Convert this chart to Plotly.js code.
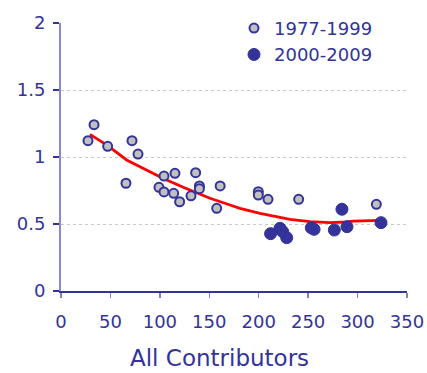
<!DOCTYPE html>
<html>
<head>
<meta charset="utf-8">
<script src="https://cdn.plot.ly/plotly-3.0.1.min.js"></script>
<style>html,body{margin:0;padding:0;background:#fff;}#chart{width:427px;height:373px;}</style>
</head>
<body>
<div id="chart"></div>
<script>
// 1977-1999 series
const earlyX = [27.3, 33.4, 47.2, 65.7, 71.8, 77.9, 99.1, 104.2, 104.2, 115.3, 114.0, 120.0, 131.5, 136.2, 140.0, 140.0, 157.5, 161.0, 199.6, 199.6, 209.4, 240.4, 319.0];
const earlyY = [1.122, 1.241, 1.080, 0.804, 1.122, 1.022, 0.774, 0.858, 0.739, 0.878, 0.729, 0.666, 0.710, 0.883, 0.784, 0.763, 0.617, 0.784, 0.741, 0.716, 0.684, 0.684, 0.647];
// 2000-2009 series
const lateX = [212.0, 221.5, 224.3, 228.3, 253.2, 256.0, 276.5, 284.2, 289.3, 323.7];
const lateY = [0.428, 0.468, 0.443, 0.398, 0.472, 0.460, 0.455, 0.610, 0.480, 0.510];
// trend line
const trendX = [29.3, 47.2, 66.4, 86.7, 103.5, 123.7, 137.3, 150.7, 171.0, 181.0, 201.3, 221.5, 231.6, 251.9, 272.0, 289.0, 295.4, 322.7];
const trendY = [1.169, 1.085, 0.978, 0.903, 0.840, 0.774, 0.735, 0.692, 0.642, 0.617, 0.580, 0.547, 0.535, 0.517, 0.510, 0.515, 0.522, 0.527];
// labels
const legendNames = ['1977-1999', '2000-2009'];
const xTitle = 'All Contributors';

const blue = '#333399';
const font = 'DejaVu Sans, Verdana, sans-serif';

const data = [
  {x: trendX, y: trendY, type: 'scatter', mode: 'lines', line: {color: '#ff0000', width: 2.8}, showlegend: false, hoverinfo: 'skip'},
  {x: earlyX, y: earlyY, type: 'scatter', mode: 'markers', name: legendNames[0],
   marker: {size: 9, color: '#c0c0c0', line: {color: blue, width: 2}}},
  {x: lateX, y: lateY, type: 'scatter', mode: 'markers', name: legendNames[1],
   marker: {size: 12, color: blue, line: {color: blue, width: 1}}}
];

const layout = {
  width: 427, height: 373,
  margin: {l: 61, r: 20, t: 23, b: 82, autoexpand: false},
  paper_bgcolor: '#fff', plot_bgcolor: '#fff',
  font: {family: font, color: blue, size: 18},
  xaxis: {
    range: [0, 350], tickvals: [0, 50, 100, 150, 200, 250, 300, 350],
    showgrid: false, zeroline: false, showline: true, linecolor: blue, linewidth: 1.5,
    ticks: 'outside', ticklen: 5, tickcolor: '#8080c0', tickwidth: 1.5,
    ticklabelstandoff: 9,
    tickfont: {family: font, size: 18, color: blue}
  },
  yaxis: {
    range: [0, 2], tickvals: [0, 0.5, 1, 1.5, 2], ticktext: ['0', '0.5', '1', '1.5', '2'],
    showgrid: true, gridcolor: '#c8c8c8', griddash: 'dot', gridwidth: 1,
    zeroline: false, showline: true, linecolor: '#8888cc', linewidth: 2,
    ticks: 'outside', ticklen: 6, tickcolor: blue, tickwidth: 1.5,
    ticklabelstandoff: 4,
    tickfont: {family: font, size: 18, color: blue}
  },
  annotations: [
    {text: xTitle, xref: 'paper', yref: 'paper', x: 0.458, y: -0.25, xanchor: 'center', yanchor: 'middle',
     showarrow: false, font: {family: font, size: 23, color: blue}}
  ],
  legend: {x: 0.50, y: 1.049, xanchor: 'left', yanchor: 'top', bgcolor: 'rgba(0,0,0,0)',
           font: {family: font, size: 18, color: blue}, itemwidth: 30, tracegroupgap: 4},
  showlegend: true
};

Plotly.newPlot('chart', data, layout, {staticPlot: true, displayModeBar: false});
</script>
</body>
</html>
